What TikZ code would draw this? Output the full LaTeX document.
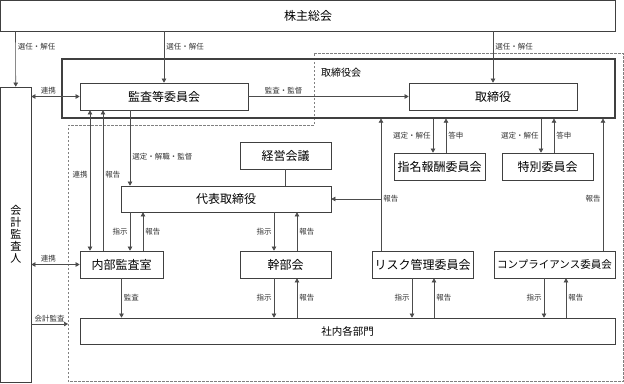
\documentclass[tikz,border=0pt]{standalone}
\usepackage{fontspec}
\setmainfont{Noto Sans CJK JP}
\usetikzlibrary{arrows.meta}

\tikzset{
  box/.style={draw=black!75, line width=0.7pt, inner sep=0pt, font=\fontsize{12}{14}\selectfont},
  arr/.style={draw=black!70, line width=0.6pt, -{Triangle[length=4pt,width=4.5pt]}},
  darr/.style={arr, {Triangle[length=4pt,width=4.5pt]}-{Triangle[length=4pt,width=4.5pt]}},
  line/.style={draw=black!70, line width=0.6pt},
  lbl/.style={font=\fontsize{7.5}{9}\selectfont, text=black!80, inner sep=2pt},
  zone/.style={draw=black!50, line width=0.6pt, dash pattern=on 2.5pt off 1.5pt},
}

\begin{document}
\begin{tikzpicture}[x=1pt, y=-1pt]
        \useasboundingbox (0,0) rectangle (624,383);

        % executive area
        \draw[zone] (314,53) -- (623,53) -- (623,381.5) -- (68,381.5) -- (68,125) -- (314,125) -- cycle;

        \node[box, minimum width=615, minimum height=30.5] (kabu) at (308,15.75) {株主総会};
        \node[box, line width=1.2pt, minimum width=553, minimum height=59] (board) at (338.5,88.5) {};
        \node[anchor=west, inner sep=0pt, font=\fontsize{10}{12}\selectfont] (boardlbl) at (321,73) {取締役会};
        \node[box, minimum width=168, minimum height=27] (kansa) at (164,96.5) {監査等委員会};
        \node[box, minimum width=168, minimum height=27] (tori) at (493,96.5) {取締役};
        \node[box, minimum width=30.5, minimum height=295.5, align=center,
              font=\fontsize{11}{12}\selectfont] (kaikei) at (15.75,234.75) {会\\計\\監\\査\\人};
        \node[box, minimum width=91, minimum height=27] (keiei) at (285.5,155.5) {経営会議};
        \node[box, minimum width=210, minimum height=26] (daihyo) at (226,199) {代表取締役};
        \node[box, minimum width=91, minimum height=27] (shimei) at (439.5,166.5) {指名報酬委員会};
        \node[box, minimum width=91, minimum height=27] (toku) at (547.5,166.5) {特別委員会};
        \node[box, minimum width=83, minimum height=27] (naibu) at (121.5,264.5) {内部監査室};
        \node[box, minimum width=91, minimum height=27] (kanbu) at (285.5,264.5) {幹部会};
        \node[box, minimum width=101, minimum height=27] (risk) at (422.5,264.5) {リスク管理委員会};
        \node[box, minimum width=121, minimum height=27, font=\fontsize{10.5}{12}\selectfont] (comp) at (554.5,264.5) {コンプライアンス委員会};
        \node[box, minimum width=535, minimum height=26, font=\fontsize{10.5}{12}\selectfont] (shanai) at (347.5,331) {社内各部門};

        \coordinate (riskup) at ([xshift=-41.5]risk.north);
        \coordinate (execedge) at (68,324);

        % shareholders
        \draw[arr] ([xshift=-292.5]kabu.south) -- node[lbl, right, pos=0.27] {選任・解任} (kaikei.north);
        \draw[arr] ([xshift=-144]kabu.south) -- node[lbl, right, pos=0.29] {選任・解任} (kansa.north);
        \draw[arr] ([xshift=185]kabu.south) -- node[lbl, right, pos=0.29] {選任・解任} (tori.north);

        % audit committee
        \draw[darr] (kaikei.east |- kansa.west) -- node[lbl, above, pos=0.35] {連携} (kansa.west);
        \draw[arr] (kansa.east) -- node[lbl, above, pos=0.22] {監査・監督} (tori.west);
        \draw[darr] ([xshift=-74]kansa.south) -- node[lbl, left, pos=0.46] {連携} ([xshift=-31.5]naibu.north);
        \draw[arr] ([xshift=-18.5]naibu.north) -- node[lbl, right, pos=0.54] {報告} ([xshift=-61]kansa.south);
        \draw[arr] ([xshift=-34]kansa.south) -- node[lbl, right, pos=0.62] {選定・解職・監督} ([xshift=-96]daihyo.north);

        % representative director
        \draw[line] (keiei.south) -- (keiei.south |- daihyo.north);
        \draw[arr] ([xshift=-96]daihyo.south) -- node[lbl, left] {指示} ([xshift=8.5]naibu.north);
        \draw[arr] ([xshift=21.5]naibu.north) -- node[lbl, right] {報告} ([xshift=-83]daihyo.south);
        \draw[arr] ([xshift=48]daihyo.south) -- node[lbl, left] {指示} ([xshift=-11.5]kanbu.north);
        \draw[arr] ([xshift=11.5]kanbu.north) -- node[lbl, right] {報告} ([xshift=71]daihyo.south);

        % committees of the board
        \draw[arr] ([xshift=94.5]board.south) -- node[lbl, left] {選定・解任} ([xshift=-6.5]shimei.north);
        \draw[arr] ([xshift=6.5]shimei.north) -- node[lbl, right] {答申} ([xshift=107.5]board.south);
        \draw[arr] ([xshift=202.5]board.south) -- node[lbl, left] {選定・解任} ([xshift=-6.5]toku.north);
        \draw[arr] ([xshift=6.5]toku.north) -- node[lbl, right] {答申} ([xshift=215.5]board.south);

        % reports to the board
        \draw[arr] (riskup) -- node[lbl, right, pos=0.39] {報告} ([xshift=42.5]board.south);
        \draw[arr] (riskup |- daihyo.east) -- (daihyo.east);
        \draw[arr] ([xshift=48.5]comp.north) -- node[lbl, left, pos=0.39] {報告} ([xshift=264.5]board.south);

        % departments
        \draw[arr] (naibu.south) -- node[lbl, right] {監査} ([xshift=-226]shanai.north);
        \draw[arr] ([xshift=-11.5]kanbu.south) -- node[lbl, left] {指示} ([xshift=-73.5]shanai.north);
        \draw[arr] ([xshift=-50.5]shanai.north) -- node[lbl, right] {報告} ([xshift=11.5]kanbu.south);
        \draw[arr] ([xshift=-10.5]risk.south) -- node[lbl, left] {指示} ([xshift=64.5]shanai.north);
        \draw[arr] ([xshift=86.5]shanai.north) -- node[lbl, right] {報告} ([xshift=11.5]risk.south);
        \draw[arr] ([xshift=-10.5]comp.south) -- node[lbl, left] {指示} ([xshift=196.5]shanai.north);
        \draw[arr] ([xshift=218.5]shanai.north) -- node[lbl, right] {報告} ([xshift=11.5]comp.south);

        % accounting auditor
        \draw[darr] (kaikei.east |- naibu.west) -- node[lbl, above, pos=0.35] {連携} (naibu.west);
        \draw[arr] (kaikei.east |- execedge) -- node[lbl, above] {会計監査} (execedge);
\end{tikzpicture}
\end{document}
